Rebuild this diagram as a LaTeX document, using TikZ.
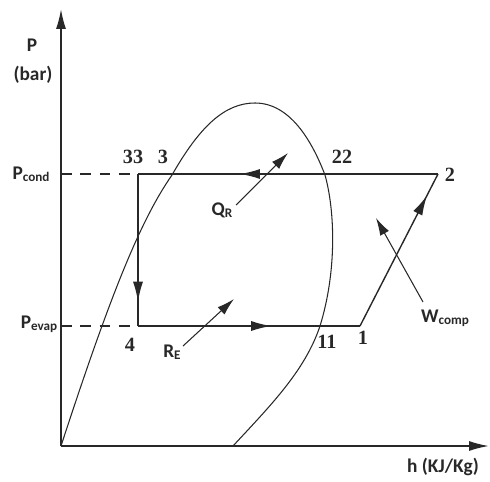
\documentclass[tikz,border=0pt]{standalone}
\usepackage{fontspec}
\setmainfont{Liberation Serif}
\newfontfamily\calib{Carlito}
\usetikzlibrary{arrows.meta, decorations.markings}

\newcommand{\lowsub}[1]{\raisebox{-0.25ex}{\fontsize{7.5}{8}\selectfont #1}}

\begin{document}
\begin{tikzpicture}[
    x=0.02cm, y=0.02cm,
    line/.style={draw=ink, line width=0.8pt},
    dome/.style={draw=ink, line width=0.6pt},
    axisarrow/.style={draw=ink, line width=0.9pt, -{Latex[length=4mm, width=2mm]}},
    ptr/.style={draw=ink, line width=0.6pt, -{Latex[length=3.5mm, width=2mm]}},
    midarrow/.style={postaction={decorate}, decoration={markings,
        mark=at position #1 with {\arrow{Latex[length=4mm, width=2mm]}}}},
    lbl/.style={font=\calib\bfseries\fontsize{11}{12}\selectfont, inner sep=0pt, text=ink},
    num/.style={font=\bfseries\fontsize{11.5}{12}\selectfont, inner sep=0pt, text=ink}
]
\definecolor{ink}{RGB}{40,40,40}
\useasboundingbox (0,0) rectangle (490,481);

% axes
\coordinate (O) at (61,35);
\coordinate (ytop) at (61,472);
\coordinate (xend) at (489,35);
\draw[axisarrow] (O) -- (ytop);
\draw[axisarrow] (O) -- (xend);

% cycle corners
\coordinate (n33) at (138,307);
\coordinate (n2) at (438,307);
\coordinate (n1) at (360,155);
\coordinate (n4) at (138,155);
\coordinate (pc) at (61,307);
\coordinate (pe) at (61,155);

\draw[line, dashed, dash pattern=on 6pt off 5pt] (pc) -- (n33);
\draw[line, dashed, dash pattern=on 6pt off 5pt] (pe) -- (n4);

% saturation dome
\coordinate (dtop) at (255,378);
\coordinate (dend) at (233,35);
\draw[dome] (O) .. controls (110,185) and (140,260) .. (172,306)
    .. controls (200,355) and (225,378) .. (dtop)
    .. controls (290,378) and (312,340) .. (325,306)
    .. controls (335,270) and (337,210) .. (320,155)
    .. controls (305,110) and (270,75) .. (dend);

% cycle
\draw[line, midarrow=0.66] (n2) -- (n33);
\draw[line, midarrow=0.84] (n33) -- (n4);
\draw[line, midarrow=0.6] (n4) -- (n1);
\draw[line, midarrow=0.86] (n1) -- (n2);

% labels
\node[lbl] (pl) at (32,436) {P};
\node[lbl] (bar) at (33,406) {(bar)};
\node[lbl] (pcond) at (31,307) {P\lowsub{cond}};
\node[lbl] (pevap) at (39,157) {P\lowsub{evap}};
\node[lbl] (hax) at (443,14) {h (KJ/Kg)};

\node[num] (l33) at (133,324) {33};
\node[num] (l3) at (163,324) {3};
\node[num] (l22) at (342,324) {22};
\node[num] (l2) at (450,306) {2};
\node[num] (l4) at (130,136) {4};
\node[num] (l11) at (327,139) {11};
\node[num] (l1) at (363,143) {1};

\node[lbl] (qr) at (222,271) {Q\lowsub{R}};
\node[lbl] (re) at (172,129) {R\lowsub{E}};
\node[lbl] (wc) at (445,163) {W\lowsub{comp}};

\coordinate (qs) at (236,276);
\coordinate (qt) at (288,328);
\coordinate (rs) at (183,135);
\coordinate (rt) at (234,182);
\coordinate (ws) at (423,179);
\coordinate (wt) at (376,263);
\draw[ptr] (qs) -- (qt);
\draw[ptr] (rs) -- (rt);
\draw[ptr] (ws) -- (wt);
\end{tikzpicture}
\end{document}
